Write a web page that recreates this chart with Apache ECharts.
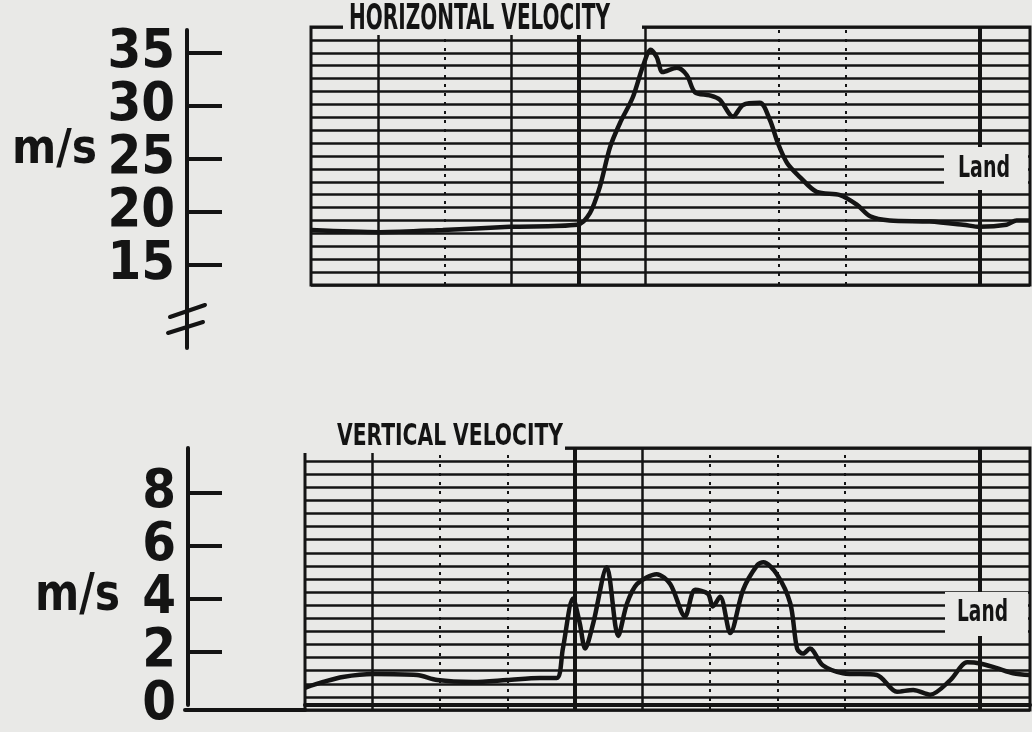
<!DOCTYPE html>
<html><head><meta charset="utf-8">
<script src="https://cdn.jsdelivr.net/npm/echarts@6/dist/echarts.min.js"></script>
<style>html,body{margin:0;padding:0;background:#e9e9e7;}#c{width:1032px;height:732px;}</style>
</head><body><div id="c"></div>
<script>
// ---- data ----
const hTime = [0, 1.03, 1.97, 2.97, 3.98, 4.17, 4.32, 4.47, 4.62, 4.81, 4.96, 5.08, 5.17, 5.26, 5.47, 5.62, 5.74, 5.96, 6.11, 6.31, 6.46, 6.71, 6.86, 6.98, 7.12, 7.31, 7.56, 7.91, 8.16, 8.36, 8.65, 9.25, 9.75, 10.0, 10.40, 10.55, 10.75];
const hVel = [18.3, 18.1, 18.3, 18.6, 18.8, 19.9, 22.4, 26.1, 28.4, 30.8, 33.7, 35.3, 34.6, 33.2, 33.6, 32.9, 31.3, 31.0, 30.6, 29.0, 30.1, 30.3, 28.7, 26.5, 24.6, 23.3, 21.9, 21.6, 20.7, 19.6, 19.2, 19.1, 18.8, 18.6, 18.8, 19.2, 19.2];
const vTime = [0, 0.27, 0.56, 1.01, 1.66, 1.96, 2.49, 2.99, 3.48, 3.73, 3.82, 3.97, 4.07, 4.15, 4.27, 4.47, 4.64, 4.77, 4.92, 5.21, 5.41, 5.63, 5.78, 5.97, 6.04, 6.15, 6.30, 6.49, 6.70, 6.79, 6.99, 7.19, 7.29, 7.38, 7.48, 7.67, 7.97, 8.47, 8.77, 9.01, 9.26, 9.56, 9.81, 10.0, 10.25, 10.49, 10.74];
const vVel = [0.65, 0.87, 1.06, 1.17, 1.13, 0.94, 0.87, 0.94, 1.02, 1.02, 2.13, 4.02, 3.09, 2.13, 3.09, 5.2, 2.61, 3.83, 4.57, 4.94, 4.57, 3.35, 4.35, 4.2, 3.72, 4.09, 2.72, 4.35, 5.28, 5.39, 4.94, 3.83, 2.13, 1.94, 2.13, 1.5, 1.2, 1.13, 0.5, 0.57, 0.39, 0.94, 1.61, 1.57, 1.39, 1.2, 1.13];
const hTicks = [15, 20, 25, 30, 35];
const vTicks = [0, 2, 4, 6, 8];
const vTickMarks = [2, 4, 6, 8];
const hGridSolid = [1, 3, 5];
const hGridDotted = [2, 7, 8];
const hGridHeavy = [4, 10];
const vGridSolid = [1, 5];
const vGridDotted = [2, 3, 6, 7, 8];
const vGridHeavy = [4, 10];
const titles = ['HORIZONTAL VELOCITY', 'VERTICAL VELOCITY'];
const unitText = 'm/s';
const landText = 'Land';

// ---- styling ----
const PAPER = '#e9e9e7';
const INK = '#141414';
const FONT = "'Liberation Sans Narrow','Arial Narrow','DejaVu Sans Condensed','Liberation Sans',sans-serif";
const ctx = document.createElement('canvas').getContext('2d');
function fit(text, size, target) {
  ctx.font = 'bold ' + size + 'px ' + FONT;
  return target / ctx.measureText(text).width;
}
function txt(text, x, y, size, width) {
  return { type: 'text', x: x, y: y, z: 120, scaleX: fit(text, size, width),
    style: { text: text, fontSize: size, fontWeight: 'bold', fontFamily: FONT, fill: INK, align: 'left', verticalAlign: 'middle' } };
}
function cover(x, y, w, h) {
  return { type: 'rect', z: 110, shape: { x: x, y: y, width: w, height: h }, style: { fill: PAPER } };
}
function seg(x1, y1, x2, y2) {
  return { type: 'line', z: 115, shape: { x1: x1, y1: y1, x2: x2, y2: y2 }, style: { stroke: INK, lineWidth: 4, lineCap: 'round' } };
}

const labelStyle = { fontSize: 54, fontWeight: 'bold', fontFamily: FONT, color: INK, margin: 12,
  hideOverlap: false, showMinLabel: true, showMaxLabel: true };
const even = arr => arr.filter((v, i) => i % 2 === 0);
const odd = arr => arr.filter((v, i) => i % 2 === 1);

function boxX(max) {
  return { type: 'value', min: 0, max: max, interval: 1, axisLine: { show: false }, axisTick: { show: false }, axisLabel: { show: false },
    splitLine: { show: false } };
}
function boxY() {
  return { type: 'value', min: 0, max: 20, interval: 1, axisLine: { show: false }, axisTick: { show: false }, axisLabel: { show: false },
    splitLine: { show: true, lineStyle: { color: INK, width: 2.5 } } };
}
// value axis with the drawn line + ticks, plus a twin that carries the other half of the labels
function valueAxes(grid, min, max, offset, tickLen, ticks, labels) {
  return [
    { gridIndex: grid, type: 'value', min: min, max: max, position: 'left', offset: offset,
      axisLine: { show: true, onZero: false, lineStyle: { color: INK, width: 4 } },
      axisTick: { show: true, inside: true, length: tickLen, customValues: ticks, lineStyle: { color: INK, width: 4 } },
      axisLabel: Object.assign({ customValues: even(labels) }, labelStyle),
      splitLine: { show: false } },
    { gridIndex: grid, type: 'value', min: min, max: max, position: 'left', offset: offset,
      axisLine: { show: false, onZero: false }, axisTick: { show: false },
      axisLabel: Object.assign({ customValues: odd(labels) }, labelStyle),
      splitLine: { show: false } }
  ];
}
function gridMarks(xIdx, yIdx, dotted, solid, heavy) {
  return { type: 'line', xAxisIndex: xIdx, yAxisIndex: yIdx, data: [[0, 0]], showSymbol: false, lineStyle: { width: 0 }, silent: true,
    markLine: { symbol: 'none', silent: true, label: { show: false },
      data: dotted.map(v => ({ xAxis: v, lineStyle: { color: INK, width: 2, type: [3, 6] } }))
        .concat(solid.map(v => ({ xAxis: v, lineStyle: { color: INK, width: 2.5, type: 'solid' } })))
        .concat(heavy.map(v => ({ xAxis: v, lineStyle: { color: INK, width: 4, type: 'solid' } }))) } };
}

const topAxes = valueAxes(0, 7.17, 37.17, 124, 35, hTicks, hTicks);      // yAxis 0,1
const botAxes = valueAxes(2, 0, 9.704, 117, 34, vTickMarks, vTicks);    // yAxis 3,4

const chart = echarts.init(document.getElementById('c'));
chart.setOption({
  backgroundColor: PAPER,
  animation: false,
  grid: [
    { left: 311, width: 719, top: 30, height: 318, show: false },
    { left: 311, width: 719, top: 27, height: 258, show: true, borderColor: INK, borderWidth: 3, backgroundColor: 'transparent' },
    { left: 305, width: 725, top: 448, height: 262, show: false },
    { left: 305, width: 725, top: 448, height: 262, show: true, borderColor: INK, borderWidth: 3, backgroundColor: 'transparent' }
  ],
  xAxis: [
    { gridIndex: 0, type: 'value', min: 0, max: 10.75, show: false },
    Object.assign({ gridIndex: 1 }, boxX(10.75)),
    { gridIndex: 2, type: 'value', min: 0, max: 10.74, axisLine: { show: true, onZero: false, lineStyle: { color: INK, width: 4 } }, axisTick: { show: false }, axisLabel: { show: false }, splitLine: { show: false } },
    Object.assign({ gridIndex: 3 }, boxX(10.74))
  ],
  yAxis: [
    topAxes[0], topAxes[1],
    Object.assign({ gridIndex: 1 }, boxY()),
    botAxes[0], botAxes[1],
    Object.assign({ gridIndex: 3 }, boxY())
  ],
  series: [
    gridMarks(1, 2, hGridDotted, hGridSolid, hGridHeavy),
    gridMarks(3, 5, vGridDotted, vGridSolid, vGridHeavy),
    { name: 'Horizontal velocity', type: 'line', xAxisIndex: 0, yAxisIndex: 0, z: 5,
      data: hTime.map((t, i) => [t, hVel[i]]), smooth: 0.3, showSymbol: false,
      lineStyle: { color: INK, width: 4.5 } },
    { name: 'Vertical velocity', type: 'line', xAxisIndex: 2, yAxisIndex: 3, z: 5,
      data: vTime.map((t, i) => [t, vVel[i]]), smooth: 0.3, showSymbol: false,
      lineStyle: { color: INK, width: 4.5 } }
  ],
  graphic: [
    cover(343, 0, 299, 35),
    cover(298, 420, 267, 33),
    cover(944, 147, 84, 43),
    cover(945, 592, 83, 44),
    txt(titles[0], 349, 20, 35, 261),
    txt(titles[1], 337, 437, 30, 226),
    txt(landText, 958, 169, 30, 52),
    txt(landText, 957, 613, 30, 51),
    txt(unitText, 12, 151, 48, 85),
    txt(unitText, 35, 596, 52, 85),
    seg(170, 317, 205, 305),
    seg(168, 333, 203, 322),
    seg(185, 710, 305, 710)
  ]
});
</script></body></html>
